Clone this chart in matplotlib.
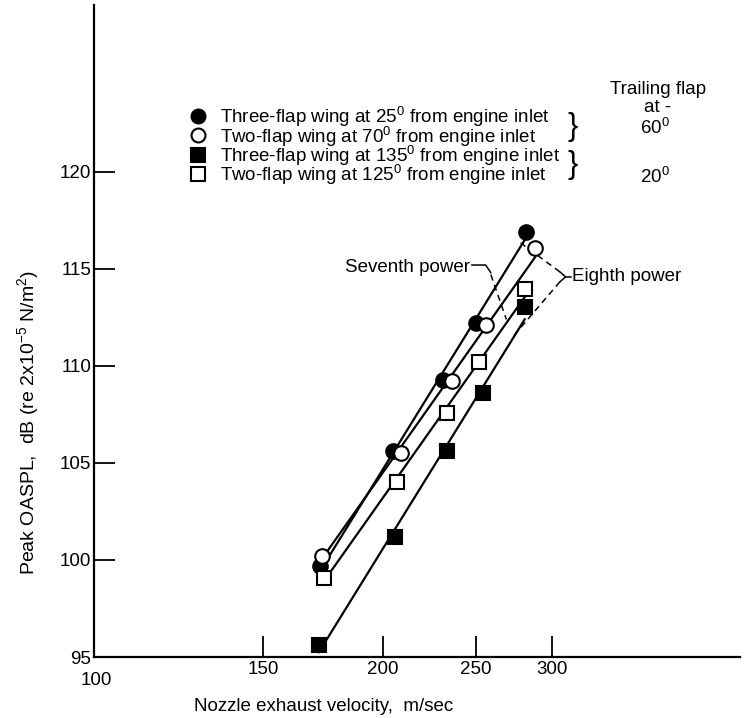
import numpy as np
import matplotlib
matplotlib.use("Agg")
import matplotlib.pyplot as plt

plt.rcParams['font.family'] = ['Liberation Sans Narrow', 'Liberation Sans', 'DejaVu Sans']
plt.rcParams['mathtext.default'] = 'regular'

# Peak OASPL (dB) against nozzle exhaust velocity (m/sec)
three_flap_25_v = [172, 205, 231, 250, 282]
three_flap_25_db = [99.7, 105.6, 109.3, 112.2, 116.9]
two_flap_70_v = [173, 209, 236, 256, 288]
two_flap_70_db = [100.2, 105.5, 109.2, 112.1, 116.1]
three_flap_135_v = [171.5, 206, 233, 254, 281]
three_flap_135_db = [95.6, 101.2, 105.6, 108.6, 113.05]
two_flap_125_v = [173.6, 207, 233, 252, 281]
two_flap_125_db = [99.05, 104.0, 107.6, 110.2, 113.95]

# velocity power law used for each faired line (OASPL ~ V^n)
power_exponents = [8, 7, 8, 7]

series_labels = [
    "Three-flap wing at 25$^0$ from engine inlet",
    "Two-flap wing at 70$^0$ from engine inlet",
    "Three-flap wing at 135$^0$ from engine inlet",
    "Two-flap wing at 125$^0$ from engine inlet",
]
flap_labels = ["60$^0$", "20$^0$"]
x_ticks = [150, 200, 250, 300]
y_ticks = [100, 105, 110, 115, 120]

series = [
    (three_flap_25_v, three_flap_25_db, 'o', 'black'),
    (two_flap_70_v, two_flap_70_db, 'o', 'white'),
    (three_flap_135_v, three_flap_135_db, 's', 'black'),
    (two_flap_125_v, two_flap_125_db, 's', 'white'),
]

FS = 13.5

fig = plt.figure(figsize=(7.44, 7.18), dpi=100)
ax = fig.add_axes([94 / 744, 61 / 718, 646 / 744, 652 / 718])
ax.set_xscale('log')
ax.set_xlim(100, 471)
ax.set_ylim(95, 128.6)

for (v, db, mk, fc), n in zip(series, power_exponents):
    v = np.asarray(v, float)
    db = np.asarray(db, float)
    # least-squares intercept for a fixed-slope power law
    a = np.mean(db - 10 * n * np.log10(v))
    vv = np.array([v.min(), v.max()])
    ax.plot(vv, a + 10 * n * np.log10(vv), color='black', lw=1.6, zorder=2)
    ax.plot(v, db, linestyle='none', marker=mk, markersize=10.5 if mk == 'o' else 10,
            markerfacecolor=fc, markeredgecolor='black', markeredgewidth=1.5, zorder=3)

# axes styling
for side in ('top', 'right'):
    ax.spines[side].set_visible(False)
for side in ('left', 'bottom'):
    ax.spines[side].set_linewidth(1.6)
ax.xaxis.set_minor_locator(matplotlib.ticker.NullLocator())
ax.set_xticks(x_ticks)
ax.set_xticklabels([str(t) for t in x_ticks])
ax.set_yticks([95] + y_ticks)
ax.set_yticklabels(['95'] + [str(t) for t in y_ticks])
ax.tick_params(direction='in', length=15, width=1.3, labelsize=FS, pad=2)
ax.tick_params(axis='x', pad=3)
ax.yaxis.get_major_ticks()[0].tick1line.set_visible(False)
# origin value of the velocity axis, set just below the dB origin label
ax.annotate('100', xy=(100, 95), xytext=(2, -11), textcoords='offset points',
            ha='center', va='top', fontsize=FS)

ax.set_xlabel('Nozzle exhaust velocity,  m/sec', fontsize=FS)
ax.xaxis.set_label_coords(0.356, -0.063)
ax.set_ylabel('Peak OASPL,  dB (re 2x10$^{-5}$ N/m$^2$)', fontsize=14)
ax.yaxis.set_label_coords(-0.082, 0.36)

# key: symbol column and one text block holding the four descriptions
key_rows_y = [0.830, 0.800, 0.770, 0.741]
for (_, _, mk, fc), ky in zip(series, key_rows_y):
    ax.plot([0.161], [ky], transform=ax.transAxes, linestyle='none', marker=mk,
            markersize=10 if mk == 'o' else 9.5, markerfacecolor=fc,
            markeredgecolor='black', markeredgewidth=1.5, clip_on=False)
ax.text(0.195, np.mean(key_rows_y) - 0.002, "\n".join(series_labels), transform=ax.transAxes,
        ha='left', va='center', fontsize=FS, linespacing=0.74)

# trailing-flap key on the right
ax.text(0.873, 0.857, 'Trailing flap\nat -', transform=ax.transAxes, ha='center',
        va='center', fontsize=FS, linespacing=1.05)
ax.text(0.868, 0.811, flap_labels[0], transform=ax.transAxes, ha='center', va='center',
        fontsize=FS)
ax.text(0.868, 0.737, flap_labels[1], transform=ax.transAxes, ha='center', va='center',
        fontsize=FS)
ax.text(0.741, 0.813, '}', transform=ax.transAxes, ha='center', va='center', fontsize=22)
ax.text(0.741, 0.755, '}', transform=ax.transAxes, ha='center', va='center', fontsize=22)

# power-law callouts
ax.text(246.5, 115.05, 'Seventh power', ha='right', va='center', fontsize=FS)
ax.plot([247.6, 255.9, 259.1], [115.2, 115.2, 114.8], color='black', lw=1.1)
ax.plot([259.1, 268.9], [114.7, 112.4], color='black', lw=1.1, ls=(0, (4, 3)))

ax.text(314.9, 114.59, 'Eighth power', ha='left', va='center', fontsize=FS)
ax.plot([310.0, 314.0], [114.59, 114.59], color='black', lw=1.1)
ax.plot([305.7, 310.0, 305.7], [114.85, 114.59, 114.33], color='black', lw=1.1)
ax.plot([305.7, 278.3], [114.85, 116.34], color='black', lw=1.1, ls=(0, (4, 3)))
ax.plot([305.7, 273.0], [114.33, 111.49], color='black', lw=1.1, ls=(0, (4, 3)))

fig.savefig('out.png', dpi=100)
